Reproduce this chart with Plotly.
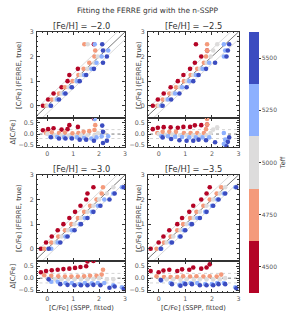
import plotly.graph_objects as go

# ---------------- data ----------------
title_text = "Fitting the FERRE grid with the n-SSPP"
feh_labels = ["[Fe/H] = \u22122.0", "[Fe/H] = \u22122.5", "[Fe/H] = \u22123.0", "[Fe/H] = \u22123.5"]
teff_values = [4500, 4750, 5000, 5250, 5500]
teff_colors = ["#b40426", "#f49a7b", "#dddcdc", "#8db0fe", "#3b4cc0"]
cfe_true = [0.0, 0.25, 0.5, 0.75, 1.0, 1.25, 1.5, 1.75, 2.0, 2.25, 2.5]

# fitted [C/Fe] (SSPP) for each Teff, per panel
fit_m20 = {
    4500: [-0.17, 0.03, 0.24, 0.55, 0.78, 0.85, 1.18, None, None, None, 1.80],
    4750: [-0.05, 0.17, 0.45, 0.68, 0.97, 1.20, 1.40, 1.62, 1.82, 1.85, 1.43],
    5000: [0.00, 0.30, 0.55, 0.82, 1.10, 1.30, 1.55, 1.82, 1.95, 2.20, 1.56],
    5250: [0.12, 0.38, 0.65, 0.92, 1.15, 1.42, 1.70, 1.90, 2.10, 2.35, 1.83],
    5500: [0.14, 0.45, 0.70, 0.95, 1.25, 1.50, 1.80, 2.15, 2.30, 2.15, 2.12],
}
fit_m25 = {
    4500: [-0.22, -0.03, 0.19, 0.45, 0.72, 0.93, 1.18, 1.36, 1.60, 1.82, 1.40],
    4750: [-0.05, 0.15, 0.40, 0.65, 0.95, 1.20, 1.45, 1.70, 1.78, 1.82, 1.82],
    5000: [0.00, 0.28, 0.52, 0.80, 1.05, 1.30, 1.55, 1.80, 1.95, 2.05, 2.20],
    5250: [0.10, 0.35, 0.62, 0.88, 1.15, 1.40, 1.65, 1.90, 2.45, 2.50, 2.45],
    5500: [0.15, 0.47, 0.78, 1.05, 1.30, 1.50, 1.78, 2.12, 2.55, 2.60, 2.65],
}
fit_m30 = {
    4500: [-0.25, -0.05, 0.17, 0.40, 0.62, 0.85, 1.07, 1.28, 1.50, 1.55, 1.78],
    4750: [-0.12, 0.15, 0.42, 0.68, 0.93, 1.18, 1.42, 1.65, 1.90, 2.10, 2.15],
    5000: [0.02, 0.30, 0.55, 0.80, 1.05, 1.30, 1.55, 1.78, 2.00, 2.30, 2.55],
    5250: [0.15, 0.40, 0.70, 0.95, 1.25, 1.45, 1.72, 1.95, 2.20, 2.55, 2.88],
    5500: [0.05, 0.50, 0.78, 1.05, 1.30, 1.55, 1.78, 2.05, 2.40, 2.60, 2.95],
}
fit_m35 = {
    4500: [-0.30, 0.00, 0.18, 0.40, 0.70, 0.88, 1.15, 1.30, 1.60, 1.80, 1.92],
    4750: [-0.08, 0.20, 0.45, 0.70, 0.92, 1.18, 1.42, 1.68, 1.92, 2.18, 2.35],
    5000: [0.05, 0.30, 0.55, 0.82, 1.05, 1.32, 1.55, 1.80, 2.05, 2.30, 2.50],
    5250: [0.10, 0.45, 0.78, 0.95, 1.20, 1.45, 1.75, 2.00, 2.20, 2.45, 2.88],
    5500: [0.08, 0.50, 0.82, 1.00, 1.25, 1.55, 1.80, 2.05, 2.25, 2.50, 2.92],
}
panels = [fit_m20, fit_m25, fit_m30, fit_m35]

main_yticks = [0, 1, 2, 3]
resid_yticks = [-0.5, 0.0, 0.5]
resid_yticktext = ["\u22120.5", "0.0", "0.5"]
xticks = [0, 1, 2, 3]
ref_offsets_main = [-0.3, 0.3]
ref_offsets_resid = [-0.2, 0.2]

# ---------------- layout geometry (pixels) ----------------
W, H = 293, 318
cols = [(37, 125), (148, 238.5)]
rows = [((32, 118), (118, 147)), ((175, 261), (261, 292))]
XR = [-0.4, 3.0]
YR = [-0.5, 3.0]
RR = [-0.58, 0.72]
FONT = "DejaVu Sans"
TXT = "#333333"
TICKC = "#555555"

def px_x(p):
    return p / W

def px_y(p):
    return 1 - p / H

fig = go.Figure()

n = len(teff_values)
cscale = []
for i, c in enumerate(teff_colors):
    cscale.append([i / n, c])
    cscale.append([(i + 1) / n, c])

layout = dict(
    width=W, height=H, margin=dict(l=0, r=0, t=0, b=0, pad=0, autoexpand=False),
    paper_bgcolor="white", plot_bgcolor="white", showlegend=False,
    font=dict(family=FONT, color=TXT, size=6),
)

def axstyle(rng, minor_dtick, **kw):
    d = dict(range=rng, showline=True, linecolor="#333", linewidth=0.8, mirror="allticks",
             ticks="inside", ticklen=3, tickwidth=0.6, tickcolor="#333", showgrid=False,
             zeroline=False, tickfont=dict(size=6.3, color=TICKC, family=FONT),
             automargin=False, ticklabelstandoff=1,
             minor=dict(ticks="inside", ticklen=1.5, tickwidth=0.5, tickcolor="#333",
                        dtick=minor_dtick, tick0=0, showgrid=False))
    d.update(kw)
    return d

def label(text, x, y, size, angle=0):
    return dict(text=text, x=px_x(x), y=px_y(y), xref="paper", yref="paper", showarrow=False,
                xanchor="center", yanchor="middle", textangle=angle,
                font=dict(size=size, color=TXT, family=FONT))

annotations = []
for k, fits in enumerate(panels):
    r, c = divmod(k, 2)
    (mx0, mx1) = cols[c]
    (my, ry) = rows[r]
    im = 2 * k + 1
    ir = 2 * k + 2
    xm, ym = f"x{im}", f"y{im}"
    xr, yr = f"x{ir}", f"y{ir}"
    layout[f"xaxis{im}"] = axstyle(XR, 0.2, domain=[px_x(mx0), px_x(mx1)], anchor=ym,
                                   tickvals=xticks, showticklabels=False)
    layout[f"yaxis{im}"] = axstyle(YR, 0.2, domain=[px_y(my[1]), px_y(my[0])], anchor=xm,
                                   tickvals=main_yticks)
    layout[f"xaxis{ir}"] = axstyle(XR, 0.2, domain=[px_x(mx0), px_x(mx1)], anchor=yr,
                                   tickvals=xticks)
    layout[f"yaxis{ir}"] = axstyle(RR, 0.1, domain=[px_y(ry[1]), px_y(ry[0])], anchor=xr,
                                   tickvals=resid_yticks, ticktext=resid_yticktext)

    # reference lines (main: one-to-one and offsets, residual: zero and offsets)
    ext = [-1, 4]
    for off in ref_offsets_main:
        fig.add_trace(go.Scatter(x=ext, y=[e + off for e in ext], mode="lines", xaxis=xm, yaxis=ym,
                                 line=dict(color="#cfcfcf", width=0.8), hoverinfo="skip"))
    fig.add_trace(go.Scatter(x=ext, y=ext, mode="lines", xaxis=xm, yaxis=ym,
                             line=dict(color="#555555", width=0.8), hoverinfo="skip"))
    for off in ref_offsets_resid:
        fig.add_trace(go.Scatter(x=ext, y=[off, off], mode="lines", xaxis=xr, yaxis=yr,
                                 line=dict(color="#c8c8c8", width=0.8, dash="dot"), hoverinfo="skip"))
    fig.add_trace(go.Scatter(x=ext, y=[0, 0], mode="lines", xaxis=xr, yaxis=yr,
                             line=dict(color="#555555", width=0.8, dash="dot"), hoverinfo="skip"))

    # points
    xs, ys, rs, cs = [], [], [], []
    for t in teff_values:
        for yt, xf in zip(cfe_true, fits[t]):
            if xf is None:
                continue
            xs.append(xf)
            ys.append(yt)
            rs.append(yt - xf)
            cs.append(t)
    mk = dict(color=cs, colorscale=cscale, cmin=4375, cmax=5625, size=4.6, line=dict(width=0))
    mk_main = dict(mk)
    if k == 0:
        mk_main.update(showscale=True, colorbar=dict(
            x=px_x(249), xanchor="left", y=px_y(32), yanchor="top",
            len=(293 - 32) / H, lenmode="fraction", thickness=10, thicknessmode="pixels",
            xpad=0, ypad=0, outlinewidth=0, tickvals=teff_values, ticks="outside",
            ticklen=2, tickwidth=0.6, tickcolor="#333",
            tickfont=dict(size=6, color=TICKC, family=FONT),
            title=dict(text="Teff", side="right", font=dict(size=6.5, color=TXT, family=FONT))))
    fig.add_trace(go.Scatter(x=xs, y=ys, mode="markers", xaxis=xm, yaxis=ym, marker=mk_main,
                             hoverinfo="skip"))
    fig.add_trace(go.Scatter(x=xs, y=rs, mode="markers", xaxis=xr, yaxis=yr, marker=mk,
                             hoverinfo="skip"))

    # panel title
    annotations.append(label(feh_labels[k], (mx0 + mx1) / 2, my[0] - 6, 8.3))
    # y titles
    ytx = 19 if c == 0 else 139
    annotations.append(label("[C/Fe] (FERRE, true)", ytx, (my[0] + my[1]) / 2, 6.8, -90))
    if c == 0:
        annotations.append(label("\u0394[C/Fe]", 12, (ry[0] + ry[1]) / 2, 6.8, -90))
    if r == 1:
        annotations.append(label("[C/Fe] (SSPP, fitted)", (mx0 + mx1) / 2, 308, 6.6))

annotations.append(label(title_text, 148, 11, 7.4))
layout["annotations"] = annotations
fig.update_layout(**layout)
fig.write_html("out.html", config={"displayModeBar": False},
               post_script="document.body.style.margin='0px';")
